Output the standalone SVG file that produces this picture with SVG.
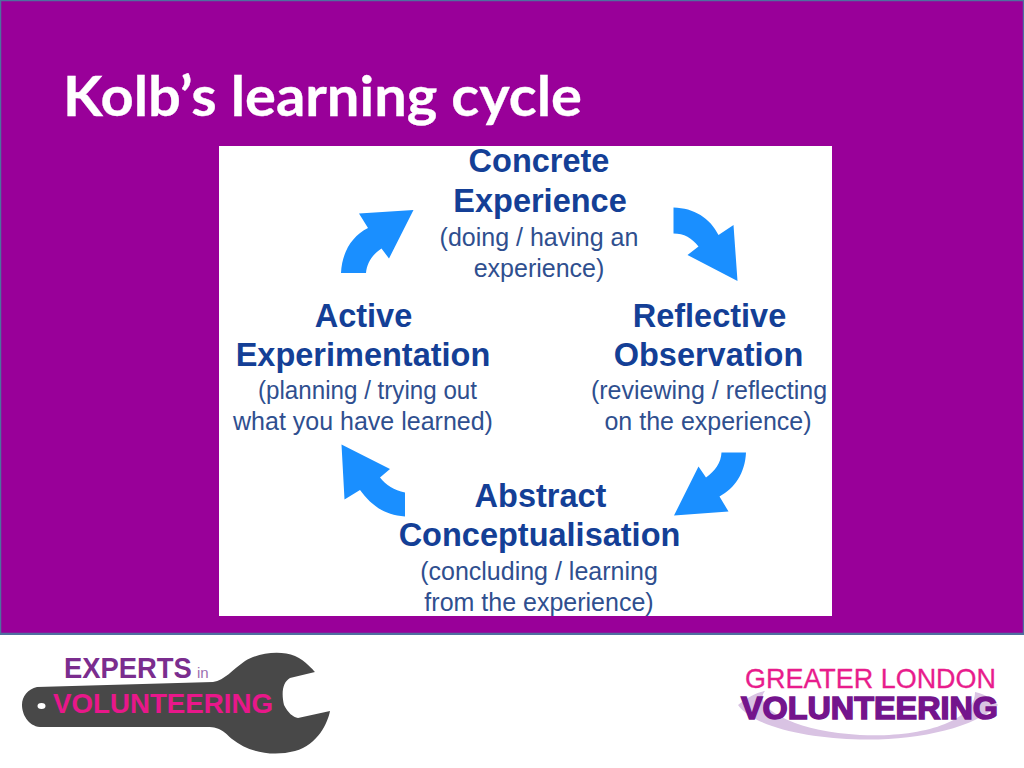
<svg xmlns="http://www.w3.org/2000/svg" width="1024" height="768" viewBox="0 0 1024 768">
<style>
.h{font-family:"Liberation Sans",Arial,sans-serif;font-weight:700;font-size:32.500px;fill:#143f96;text-anchor:middle}
.s{font-family:"Liberation Sans",Arial,sans-serif;font-size:25px;fill:#2f4f8f;text-anchor:middle}
.a{fill:#1a8fff}
</style>
<rect width="1024" height="768" fill="#fff"/>
<rect id="band" x="0.500" y="0.500" width="1023" height="633" fill="#990099" stroke="#4f6f9f" stroke-width="1.500"/>
<rect id="band-edge" x="0" y="633" width="1024" height="2" fill="#4f6f9f"/>
<text id="title" x="63" y="116" font-family="Lato,'Open Sans',sans-serif" font-weight="700" font-size="55" fill="#fff" stroke="#fff" stroke-width="0.300" textLength="519" lengthAdjust="spacingAndGlyphs">Kolb’s learning cycle</text>
<rect id="panel" x="219" y="146" width="613" height="470" fill="#fff"/>
<g id="connectors">
<path class="a" d="M413.500 210L359 213.500L368 228C352 236 342 252 341 273L366 273C367 262 373 254 381.500 248.500L389 258.500Z"/>
<path class="a" d="M673.500 207.500C694 208 710 218 718.500 235L733.500 225L737.500 281L687.500 255L698.500 246.500C692 238 684 233.500 673.500 233.500Z"/>
<path class="a" d="M721.500 452.500L746 452.500C745 473 735 488 719.500 496.500L728.500 511.500L674 515.500L698.500 466.500L706 477.500C715 471 721 463 721.500 452.500Z"/>
<path class="a" d="M341.500 444.500L390 469L380 477.500C386 485 394 490 405 492.500L405 516.500C384 515 371 505 360 490L344.500 499.500Z"/>
</g>
<g id="concrete"><text class="h" x="539" y="172">Concrete</text><text class="h" x="540" y="212">Experience</text><text class="s" x="539" y="246">(doing / having an</text><text class="s" x="539" y="277">experience)</text></g>
<g id="reflective"><text class="h" x="709.500" y="327">Reflective</text><text class="h" x="708.500" y="366">Observation</text><text class="s" x="709" y="399">(reviewing / reflecting</text><text class="s" x="708" y="430">on the experience)</text></g>
<g id="abstract"><text class="h" x="540.500" y="507">Abstract</text><text class="h" x="539.500" y="546">Conceptualisation</text><text class="s" x="539" y="580">(concluding / learning</text><text class="s" x="539" y="611">from the experience)</text></g>
<g id="active"><text class="h" x="363.500" y="327">Active</text><text class="h" x="363" y="366">Experimentation</text><text class="s" x="367.500" y="399" textLength="219" lengthAdjust="spacingAndGlyphs">(planning / trying out</text><text class="s" x="363" y="430">what you have learned)</text></g>
<g id="experts-logo">
<path fill="#484848" fill-rule="evenodd" d="M37 687L213 682C225 680 232 670 245 661C258 653 280 650 295 656C306 661 313 670 315 672L290 678C283 682 281 692 284 705C288 713 293 717 298 718L330 711C328 722 318 745 295 751C272 757 248 752 232 739C222 730 220 727 205 727L40 727C28 726 22 714 22 705C22 696 28 689 37 687Z"/>
<ellipse cx="41.500" cy="706" rx="4" ry="3" fill="#fff"/>
<text transform="translate(64 678) scale(.945 1)" font-family="'Liberation Sans',sans-serif" font-weight="700" font-size="29" fill="#7b2d8e">EXPERTS</text>
<text x="197" y="678" font-family="'Liberation Sans',sans-serif" font-size="15" fill="#9b6fb0">in</text>
<text x="53" y="713" font-family="'Liberation Sans',sans-serif" font-weight="700" font-size="28" fill="#e8178a" textLength="220" lengthAdjust="spacingAndGlyphs">VOLUNTEERING</text>
</g>
<g id="gl-logo">
<path fill="#d9c3e3" d="M738 705C746 698 757 692 765 691C752 706 790 731 860 735C920 738 975 722 975 692C986 694 993 700 998 705C975 728 915 741 860 739.500C810 738 755 728 738 705Z"/>
<text x="745" y="688" font-family="'Liberation Sans',sans-serif" font-size="28" fill="#e81c8c" stroke="#e81c8c" stroke-width="0.300" textLength="251" lengthAdjust="spacingAndGlyphs">GREATER LONDON</text>
<text x="741" y="719" font-family="'Liberation Sans',sans-serif" font-weight="700" font-size="32" fill="#74148c" stroke="#74148c" stroke-width="1.500" textLength="257" lengthAdjust="spacingAndGlyphs">VOLUNTEERING</text>
</g>
</svg>
